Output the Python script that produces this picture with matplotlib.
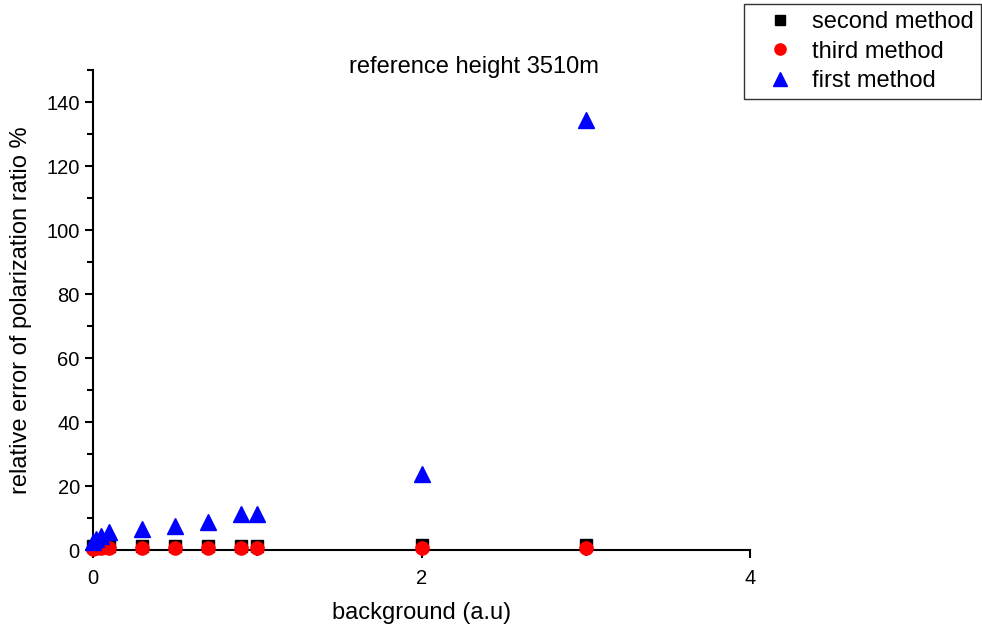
import numpy as np
import matplotlib.pyplot as plt
from matplotlib.ticker import MultipleLocator

plt.rcParams['font.family'] = ['Liberation Sans', 'DejaVu Sans']

background = [0, 0.02, 0.05, 0.1, 0.3, 0.5, 0.7, 0.9, 1.0, 2.0, 3.0]
second_method = [1.2, 1.3, 1.3, 1.4, 1.4, 1.4, 1.4, 1.4, 1.4, 1.5, 1.7]
third_method = [0.4, 0.5, 0.5, 0.5, 0.5, 0.5, 0.5, 0.5, 0.5, 0.5, 0.6]
first_method = [2.5, 3.5, 4.5, 5.6, 6.6, 7.5, 8.8, 11.3, 11.2, 23.8, 134.5]


def main():

    fig = plt.figure(figsize=(9.82, 6.31), dpi=100)
    ax = fig.add_axes([93/982, 81/631, 657/982, 480/631])

    ax.plot(background, second_method, marker='s', markersize=8.5, linewidth=0,
            color='#000000', label='second method', clip_on=False, zorder=3)
    ax.plot(background, third_method, marker='o', markersize=9.5, linewidth=0,
            color='#FF0000', label='third method', clip_on=False, zorder=4)
    ax.plot(background, first_method, marker='^', markersize=11.5, linewidth=0,
            color='#0000FF', label='first method', clip_on=False, zorder=5)

    ax.set_xlim(0, 4)
    ax.set_ylim(0, 150)
    ax.xaxis.set_major_locator(MultipleLocator(2))
    ax.xaxis.set_minor_locator(MultipleLocator(1))
    ax.yaxis.set_minor_locator(MultipleLocator(10))
    ax.set_yticks([0, 20, 40, 60, 80, 100, 120, 140])

    for side in ['top', 'right']:
        ax.spines[side].set_visible(False)
    for side in ['left', 'bottom']:
        ax.spines[side].set_linewidth(1.5)
    ax.tick_params(which='major', direction='out', length=6, width=1.5, labelsize=14.5)
    ax.tick_params(axis='x', which='major', pad=8)
    ax.tick_params(which='minor', direction='out', length=4, width=1.5)

    ax.set_xlabel('background (a.u)', fontsize=17, labelpad=10)
    ax.set_ylabel('relative error of polarization ratio %', fontsize=17, labelpad=10)
    fig.text(474/982, 1 - 67/631, 'reference height 3510m', fontsize=17,
             ha='center', va='center')

    leg = fig.legend(loc='upper right', bbox_to_anchor=(981/982, 1 - 4/631), fontsize=17,
                     frameon=True, fancybox=False, edgecolor='#000000',
                     borderaxespad=0, handletextpad=0.15, borderpad=0.3,
                     labelspacing=0.32, markerscale=0.85, handlelength=2.45)
    leg.get_frame().set_linewidth(1.0)

    fig.savefig('out.png', dpi=100)


if __name__ == "__main__":
    main()
